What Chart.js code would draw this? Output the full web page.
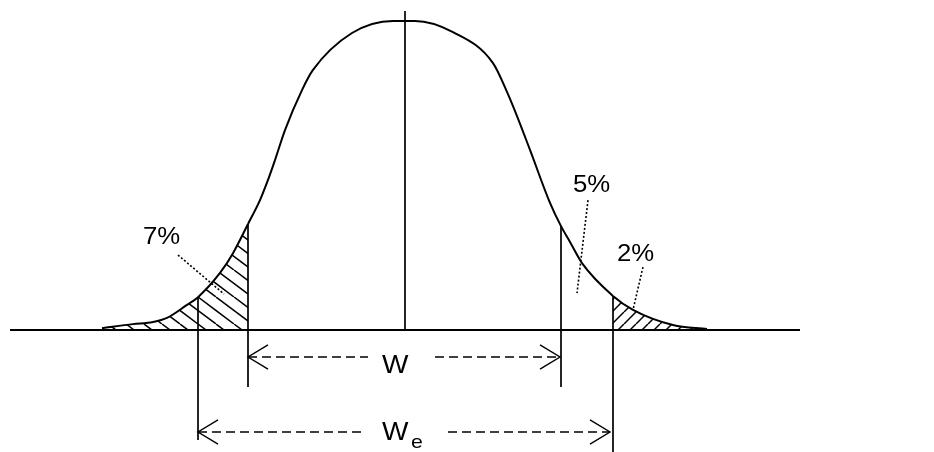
<!DOCTYPE html>
<html>
<head>
<meta charset="utf-8">
<script src="https://cdn.jsdelivr.net/npm/chart.js@4"></script>
<style>
  html, body { margin: 0; padding: 0; background: #fff; }
  #wrap { width: 934px; height: 452px; }
</style>
</head>
<body>
<div id="wrap"><canvas id="peak-chart" width="934" height="452"></canvas></div>
<script>
// Peak profile. x: arbitrary units, 0 = apex. y: % of peak height.
var curveX = [-30.3, -27.2, -25.2, -23.8, -21.8, -20.7, -18.5, -17.2, -15.7, -14.5, -13.7, -13.0, -12.0, -10.3, -9.2, -5.3, -1.2,
              1.0, 4.8, 8.8, 10.2, 11.2, 12.5, 14.5, 15.6, 16.5, 17.7, 20.8, 22.8, 26.8, 30.2];
var curveY = [0.6, 1.9, 2.6, 3.9, 8.1, 10.6, 18.4, 24.8, 34.2, 41.9, 48.4, 54.8, 64.5, 77.4, 83.9, 95.8, 99.7,
              99.7, 96.1, 86.1, 76.8, 69.0, 58.1, 41.0, 33.5, 28.4, 21.6, 11.0, 6.5, 1.6, 0.3];

// Baseline.
var baseX = [-39.5, 39.5];

// Vertical marker lines.
var markX   = [-20.7, -15.7, 0, 15.6, 20.8];
var markTop = [10.6, 34.2, 102.9, 33.5, 11.0];
var markBot = [-35.5, -18.4, 0, -18.4, -39.4];

// Width arrows W and We.
var arrowLeft  = [-15.7, -20.7];
var arrowGapL  = [-3.7, -4.0];
var arrowGapR  = [3.0, 4.3];
var arrowRight = [15.5, 20.5];
var arrowY     = [-8.7, -32.9];

// Area labels and dotted leaders.
var pctLabels = ['7%', '5%', '2%'];
var leadX0 = [-22.7, 18.3, 23.8];
var leadY0 = [24.2, 41.9, 20.3];
var leadX1 = [-18.1, 17.2, 22.8];
var leadY1 = [11.6, 11.9, 6.5];

function pts(xs, ys) {
	return xs.map(function (x, i) { return { x: x, y: ys[i] }; });
}

function hatch(w, h, lines) {
	var c = document.createElement('canvas');
	c.width = w;
	c.height = h;
	var g = c.getContext('2d');
	g.strokeStyle = '#000';
	g.lineWidth = 1.5;
	lines.forEach(function (l) {
		g.beginPath();
		g.moveTo(l[0], l[1]);
		g.lineTo(l[2], l[3]);
		g.stroke();
	});
	return g.createPattern(c, 'repeat');
}

var backHatch = hatch(36, 27, [[-36, 0, 0, 27], [-18, 0, 18, 27], [0, 0, 36, 27], [18, 0, 54, 27], [36, 0, 72, 27]]);
var fwdHatch = hatch(12, 12, [[-12, 12, 0, 0], [0, 12, 12, 0], [12, 12, 24, 0]]);

function line(data, extra) {
	var d = {
		data: data,
		showLine: true,
		borderColor: '#000',
		borderWidth: 1.7,
		pointRadius: 0,
		fill: false,
		tension: 0
	};
	for (var k in extra) d[k] = extra[k];
	return d;
}

var datasets = [];

// Curve with hatched tails.
datasets.push(line(pts(curveX, curveY), {
	borderWidth: 2,
	cubicInterpolationMode: 'monotone',
	fill: 'origin',
	backgroundColor: 'rgba(0,0,0,0)',
	segment: {
		backgroundColor: function (ctx) {
			if (ctx.p1.parsed.x <= markX[1] + 1e-6) return backHatch;
			if (ctx.p0.parsed.x >= markX[4] - 1e-6) return fwdHatch;
			return 'rgba(0,0,0,0)';
		}
	}
}));

// Baseline.
datasets.push(line(pts(baseX, [0, 0]), { borderWidth: 2.2 }));

// Markers.
markX.forEach(function (x, i) {
	datasets.push(line([{ x: x, y: markTop[i] }, { x: x, y: markBot[i] }]));
});

// Arrows.
arrowY.forEach(function (y, i) {
	var l = arrowLeft[i], r = arrowRight[i];
	datasets.push(line([{ x: l, y: y }, { x: arrowGapL[i], y: y }], { borderWidth: 1.4, borderDash: [9, 5] }));
	datasets.push(line([{ x: arrowGapR[i], y: y }, { x: r, y: y }], { borderWidth: 1.4, borderDash: [9, 5] }));
	datasets.push(line([{ x: l + 2, y: y + 3.9 }, { x: l, y: y }, { x: l + 2, y: y - 3.9 }], { borderWidth: 1.4 }));
	datasets.push(line([{ x: r - 2, y: y + 3.9 }, { x: r, y: y }, { x: r - 2, y: y - 3.9 }], { borderWidth: 1.4 }));
});

// Dotted leaders.
leadX0.forEach(function (x, i) {
	datasets.push(line([{ x: x, y: leadY0[i] }, { x: leadX1[i], y: leadY1[i] }], { borderWidth: 1.6, borderDash: [2, 2] }));
});

// Texts.
var textPlugin = {
	id: 'texts',
	afterDatasetsDraw: function (chart) {
		var c = chart.ctx, sx = chart.scales.x, sy = chart.scales.y;
		function put(t, x, y, size) {
			c.save();
			c.translate(sx.getPixelForValue(x), sy.getPixelForValue(y));
			c.scale(1.12, 1);
			c.font = size + 'px "Liberation Sans", Arial, sans-serif';
			c.fillStyle = '#000';
			c.textBaseline = 'alphabetic';
			c.fillText(t, 0, 0);
			c.restore();
		}
		put(pctLabels[0], -26.2, 27.7, 23);
		put(pctLabels[1], 16.8, 44.5, 23);
		put(pctLabels[2], 21.2, 22.3, 23);
		put('W', -2.3, -13.9, 25);
		put('W', -2.3, -35.5, 25);
		put('e', 0.6, -38.1, 19);
	}
};

new Chart(document.getElementById('peak-chart'), {
	type: 'scatter',
	data: { datasets: datasets },
	options: {
		responsive: false,
		animation: false,
		events: [],
		layout: { padding: 0 },
		plugins: {
			legend: { display: false },
			tooltip: { enabled: false }
		},
		scales: {
			x: { type: 'linear', min: -40.5, max: 52.9, display: false },
			y: { type: 'linear', min: -39.35, max: 106.45, display: false }
		}
	},
	plugins: [textPlugin]
});
</script>
</body>
</html>
